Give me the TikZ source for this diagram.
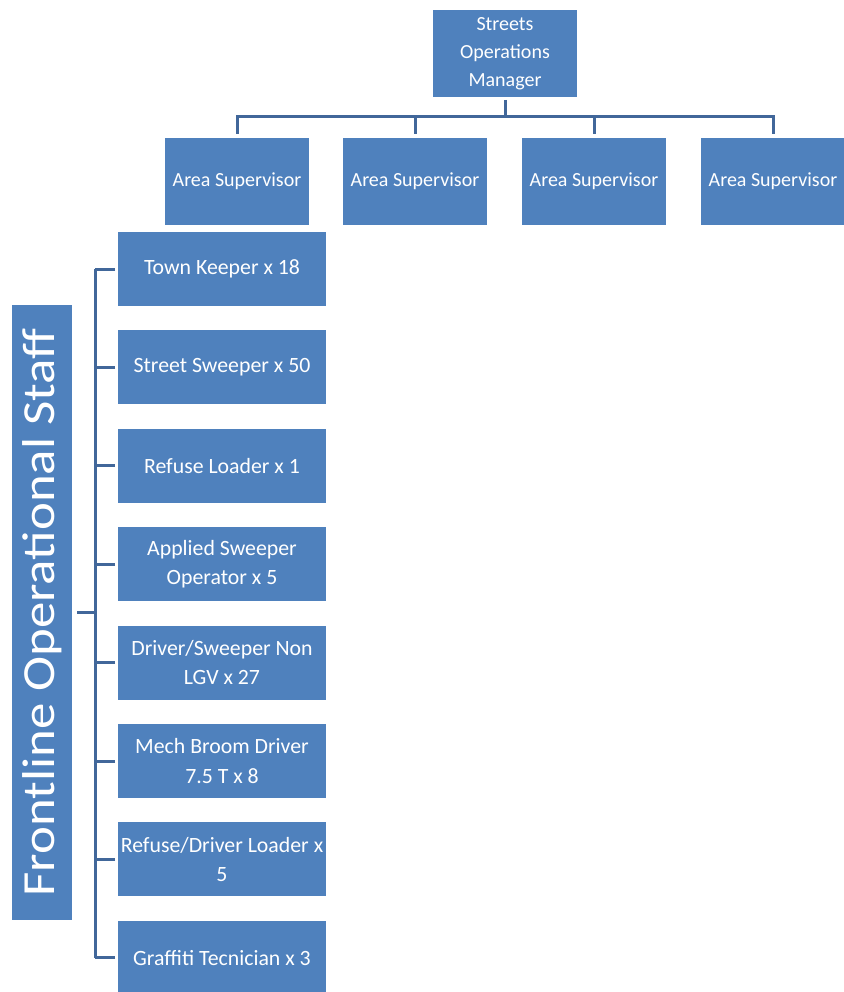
\documentclass[tikz,border=0pt]{standalone}
\usepackage{fontspec}
\setmainfont{Carlito}
\usepackage{graphicx}
\usetikzlibrary{positioning}
\definecolor{boxblue}{HTML}{4F81BD}
\definecolor{lineblue}{HTML}{41679A}

\begin{document}
\begin{tikzpicture}[x=1pt, y=-1pt,
node/.style={rectangle, fill=boxblue, text=white, align=center, inner sep=2pt, outer sep=0pt, font=\fontsize{20}{28}\selectfont},
boss/.style={node, minimum width=144pt, minimum height=87pt},
staff/.style={node, minimum width=208pt, minimum height=74pt, font=\fontsize{21.8}{29.5}\selectfont},
line/.style={draw=lineblue, line width=3pt}
]
\useasboundingbox (0,0) rectangle (843,992);
%Nodes
\node[boss]      (m)      at (505,53.5)                      {Streets\\Operations\\Manager};
\node[boss]      (a1)     at (237,181.5)                     {Area Supervisor};
\node[boss]      (a2)     [right=34pt of a1]                 {Area Supervisor};
\node[boss]      (a3)     [right=35pt of a2]                 {Area Supervisor};
\node[boss]      (a4)     [right=35pt of a3]                 {Area Supervisor};
\node[staff]     (s1)     at (222,269)                       {Town Keeper x 18};
\node[staff]     (s2)     [below=24.4pt of s1]               {Street Sweeper x 50};
\node[staff]     (s3)     [below=24.4pt of s2]               {Refuse Loader x 1};
\node[staff]     (s4)     [below=24.4pt of s3]               {Applied Sweeper\\Operator x 5};
\node[staff]     (s5)     [below=24.4pt of s4]               {Driver/Sweeper Non\\LGV x 27};
\node[staff]     (s6)     [below=24.4pt of s5]               {Mech Broom Driver\\7.5 T x 8};
\node[staff]     (s7)     [below=24.4pt of s6]               {Refuse/Driver Loader x\\5};
\node[staff]     (s8)     [below=24.4pt of s7]               {Graffiti Tecnician x 3};
\node[node, rotate=90, minimum width=615pt, minimum height=60pt, font=\fontsize{46}{50}\selectfont]
                 (fl)     at (42,612.5)                      {\scalebox{1.15}[1]{Frontline Operational Staff}};
\coordinate      (bus)    at (505,117);
\coordinate      (spine)  at (95,612.5);
%Lines
\draw[line, shorten <=3pt] (m.south) -- (bus);
\foreach \a in {a1,a2,a3,a4}
  \draw[line, shorten >=4pt] (bus) -| (\a.north);
\draw[line] (spine |- s1.west) -- (spine |- s8.west);
\foreach \s in {s1,s2,s3,s4,s5,s6,s7,s8}
  \draw[line, shorten <=3pt] (\s.west) -- (\s.west -| spine);
\draw[line, shorten <=5pt] (fl) -- (spine);
\end{tikzpicture}
\end{document}
